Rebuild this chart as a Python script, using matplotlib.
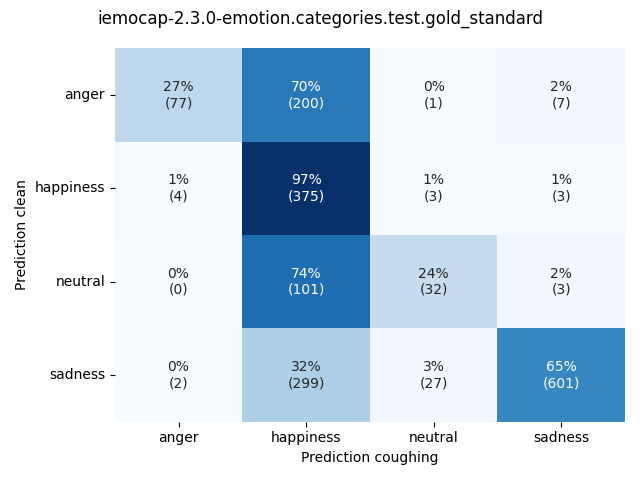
import numpy as np
import matplotlib
matplotlib.use("Agg")
import matplotlib.pyplot as plt
import seaborn as sns

labels = ["anger", "happiness", "neutral", "sadness"]
counts = np.array([
    [77, 200, 1, 7],
    [4, 375, 3, 3],
    [0, 101, 32, 3],
    [2, 299, 27, 601],
])

pct = counts / counts.sum(axis=1, keepdims=True) * 100
annot = np.array([[f"{pct[i, j]:.0f}%\n({counts[i, j]})" for j in range(4)] for i in range(4)])

fig, ax = plt.subplots(figsize=(6.4, 4.8), dpi=100)
sns.heatmap(pct, annot=annot, fmt="", cmap="Blues", cbar=False,
            xticklabels=labels, yticklabels=labels, ax=ax)
ax.set_xlabel("Prediction coughing")
ax.set_ylabel("Prediction clean")
ax.tick_params(axis="y", rotation=0)
fig.suptitle("iemocap-2.3.0-emotion.categories.test.gold_standard")
fig.tight_layout()
fig.savefig("out.png")
